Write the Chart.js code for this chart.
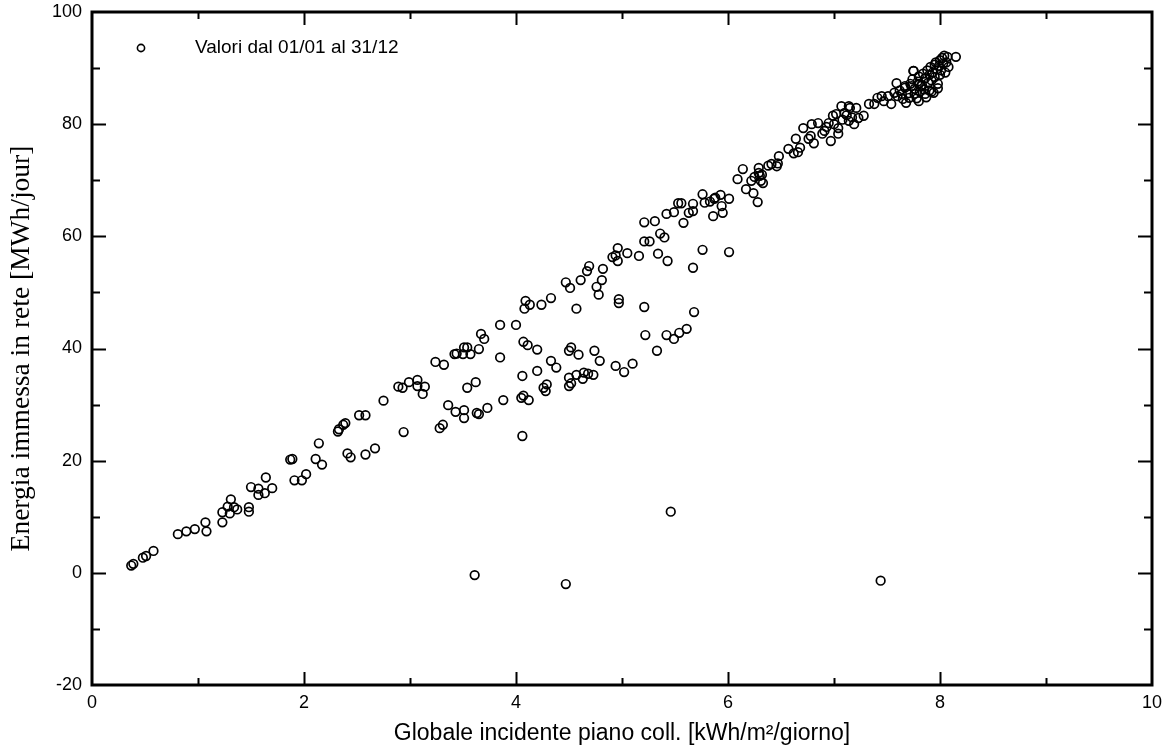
<!DOCTYPE html>
<html>
<head>
<meta charset="utf-8">
<script src="https://cdn.jsdelivr.net/npm/chart.js@4.4.1/dist/chart.umd.min.js"></script>
<style>
html,body{margin:0;padding:0;background:#fff;}
#wrap{width:1169px;height:751px;position:relative;}
</style>
</head>
<body>
<div id="wrap"><canvas id="c"></canvas></div>
<script>
// Global incident irradiation on collector plane [kWh/m²/day]
const irradiance = [
0.37,0.39,0.48,0.51,0.58,0.81,0.89,0.97,1.07,1.08,1.23,1.23,1.28,1.30,1.31,1.34,1.37,1.48,1.48,1.50,
1.57,1.57,1.63,1.64,1.70,1.87,1.89,1.91,1.98,2.02,2.11,2.14,2.17,2.32,2.33,2.37,2.39,2.41,2.44,2.52,
2.58,2.58,2.67,2.75,2.89,2.93,2.94,2.99,3.07,3.07,3.12,3.14,3.24,3.28,3.31,3.32,3.36,3.42,3.43,3.44,
3.50,3.51,3.51,3.51,3.54,3.54,3.57,3.62,3.63,3.65,3.65,3.67,3.70,3.73,3.85,3.85,3.88,4.00,4.05,4.06,
4.06,4.07,4.07,4.08,4.09,4.11,4.12,4.13,4.20,4.20,4.24,4.26,4.28,4.29,4.33,4.33,4.38,4.47,4.50,4.50,
4.50,4.51,4.52,4.52,4.57,4.57,4.59,4.61,4.63,4.64,4.67,4.68,4.69,4.73,4.74,4.76,4.78,4.79,4.81,4.82,
4.91,4.94,4.94,4.96,4.96,4.97,4.97,5.02,5.05,5.10,5.16,5.21,5.21,5.21,5.22,5.26,5.31,5.33,5.34,5.36,
5.40,5.42,5.42,5.43,5.49,5.49,5.53,5.54,5.56,5.58,5.61,5.63,5.67,5.67,5.67,5.68,5.76,5.76,5.78,5.83,
5.86,5.87,5.88,5.93,5.94,5.95,6.01,6.01,6.09,6.14,6.17,6.22,6.24,6.25,6.28,6.29,6.29,6.31,6.33,6.30,
6.32,6.38,6.41,6.46,6.47,6.48,6.57,6.62,6.66,6.68,6.64,6.71,6.76,6.78,6.79,6.81,6.85,6.89,6.91,6.95,
6.97,6.99,7.00,7.02,7.04,7.04,7.07,7.10,7.14,7.14,7.15,7.19,7.21,7.23,7.28,7.33,7.38,7.41,7.45,7.47,
7.51,7.54,7.57,7.59,7.64,7.67,7.68,7.71,7.73,7.76,7.75,7.80,7.80,6.93,7.08,7.12,7.17,
7.60,7.62,7.65,7.67,7.70,7.72,7.74,7.75,7.76,7.78,7.79,7.80,7.81,7.83,7.84,7.85,7.86,7.87,7.88,7.89,
7.90,7.90,7.91,7.92,7.93,7.94,7.95,7.95,7.96,7.97,7.98,7.99,8.00,8.00,8.01,8.02,8.03,8.04,8.05,8.06,
8.07,8.08,8.15,7.98,7.86,7.82,7.92,
3.61,4.47,5.46,7.44
];
// Energy injected into grid [MWh/day]
const energy = [
1.3,1.6,2.7,3.0,3.9,6.9,7.4,7.8,9.0,7.4,9.0,10.8,11.8,10.6,13.1,11.7,11.3,11.7,10.9,15.3,
15.0,13.9,14.2,17.0,15.1,20.2,20.3,16.5,16.5,17.6,20.3,23.1,19.3,25.2,25.6,26.4,26.7,21.3,20.6,28.1,
28.1,21.1,22.2,30.7,33.2,33.0,25.1,34.0,34.4,33.3,31.9,33.2,37.6,25.8,26.4,37.1,29.9,39.0,28.7,39.1,
39.0,40.2,29.0,27.6,40.2,33.0,39.0,34.0,28.5,28.3,39.9,42.6,41.7,29.4,44.2,38.4,30.8,44.2,31.2,24.4,
35.1,31.6,41.2,47.1,48.5,40.6,30.8,47.8,39.8,36.0,47.8,33.0,32.4,33.6,49.0,37.8,36.6,51.8,39.6,34.8,
33.3,50.8,40.2,33.8,47.1,35.3,38.9,52.2,34.6,35.7,53.8,35.5,54.7,35.3,39.6,51.0,49.6,37.8,52.2,54.2,
56.3,56.6,36.9,57.9,55.6,48.8,48.1,35.8,57.0,37.3,56.5,59.1,47.4,62.5,42.4,59.1,62.7,39.6,56.9,60.5,
59.8,64.0,42.4,55.6,64.3,41.7,65.9,42.8,65.9,62.4,43.5,64.2,64.5,54.4,65.8,46.5,57.6,67.5,66.0,66.2,
63.6,66.7,66.9,67.4,65.4,64.2,66.7,57.2,70.2,72.0,68.4,69.9,67.7,70.6,66.1,72.2,71.3,69.9,69.5,70.8,
71.0,72.6,72.9,72.5,73.0,74.3,75.6,74.8,75.0,75.8,77.4,79.3,77.4,77.9,80.0,76.6,80.2,78.3,78.8,80.2,
77.0,81.5,80.0,81.8,79.3,78.3,83.2,82.0,80.6,83.2,82.9,80.0,82.9,81.1,81.5,83.6,83.6,84.7,85.0,84.1,
85.0,83.6,85.6,87.3,85.4,86.5,83.8,84.7,86.8,85.4,89.5,84.1,87.2,79.5,80.8,81.6,81.2,
85.0,86.0,84.5,86.8,85.5,87.2,88.0,89.5,86.3,84.6,87.6,88.5,85.8,87.0,89.0,86.2,88.2,84.8,89.6,87.4,
88.8,86.0,90.2,87.8,89.2,85.6,90.6,88.4,91.0,89.8,87.2,90.4,91.4,88.8,89.6,91.8,90.8,92.2,89.2,91.0,
92.0,90.2,92.0,86.4,85.4,86.8,85.8,
-0.4,-2.0,10.9,-1.4
];
const xTickValues = [0,2,4,6,8,10];
const yTickValues = [-20,0,20,40,60,80,100];
const seriesLabel = "Valori dal 01/01 al 31/12";
const xTitle = "Globale incidente piano coll. [kWh/m²/giorno]";
const yTitle = "Energia immessa in rete [MWh/jour]";

const points = irradiance.map((x,i)=>({x:x, y:energy[i]}));

const frameAndTicks = {
  id:'frameAndTicks',
  afterDraw(chart){
    const ctx = chart.ctx, a = chart.chartArea;
    const xs = chart.scales.x, ys = chart.scales.y;
    ctx.save();
    ctx.strokeStyle = '#000';
    ctx.lineWidth = 2;
    ctx.beginPath();
    for (let v=1; v<10; v++){
      const px = Math.round(xs.getPixelForValue(v))+0.5;
      const len = (v%2===0)?13:7;
      ctx.moveTo(px, a.bottom); ctx.lineTo(px, a.bottom-len);
      ctx.moveTo(px, a.top); ctx.lineTo(px, a.top+len);
    }
    for (let v=-10; v<100; v+=10){
      const py = Math.round(ys.getPixelForValue(v))+0.5;
      const len = (v%20===0)?14:8;
      ctx.moveTo(a.left, py); ctx.lineTo(a.left+len, py);
      ctx.moveTo(a.right, py); ctx.lineTo(a.right-len, py);
    }
    ctx.stroke();
    ctx.lineWidth = 3;
    ctx.strokeRect(a.left, a.top, a.right-a.left, a.bottom-a.top);
    // legend inside the plot
    const lx = a.left + 49, ly = a.top + 36;
    ctx.lineWidth = 1.6;
    ctx.beginPath(); ctx.arc(lx, ly, 3.6, 0, Math.PI*2); ctx.stroke();
    ctx.fillStyle = '#000';
    ctx.font = '19px "Liberation Sans", Arial, sans-serif';
    ctx.textBaseline = 'middle';
    ctx.textAlign = 'left';
    ctx.fillText(seriesLabel, a.left + 103, ly);
    ctx.restore();
  }
};

new Chart(document.getElementById('c'), {
  type:'scatter',
  data:{datasets:[{
    label: seriesLabel,
    data: points,
    pointStyle:'circle',
    pointRadius:4.3,
    pointBorderWidth:1.7,
    pointBorderColor:'#000',
    pointBackgroundColor:'rgba(255,255,255,0)',
    showLine:false
  }]},
  options:{
    responsive:true,
    maintainAspectRatio:false,
    animation:false,
    layout:{padding:{top:12,right:17,left:0,bottom:0}},
    plugins:{legend:{display:false},tooltip:{enabled:false}},
    scales:{
      x:{
        type:'linear', min:0, max:10,
        afterBuildTicks(s){ s.ticks = xTickValues.map(v=>({value:v})); },
        afterFit(s){ s.height = 66; s.paddingLeft = 0; s.paddingRight = 0; },
        grid:{display:false, drawTicks:false},
        border:{display:false},
        ticks:{color:'#000', padding:7, maxRotation:0, autoSkip:false,
               font:{family:'"Liberation Sans", Arial, sans-serif', size:18},
               callback:(v)=>String(v)},
        title:{display:true, text:xTitle, color:'#000',
               font:{family:'"Liberation Sans", Arial, sans-serif', size:23},
               padding:{top:0,bottom:4}}
      },
      y:{
        type:'linear', min:-20, max:100,
        afterBuildTicks(s){ s.ticks = yTickValues.map(v=>({value:v})); },
        afterFit(s){ s.width = 92; s.paddingTop = 0; s.paddingBottom = 0; },
        grid:{display:false, drawTicks:false},
        border:{display:false},
        ticks:{color:'#000', padding:10, autoSkip:false,
               font:{family:'"Liberation Sans", Arial, sans-serif', size:18},
               callback:(v)=>String(v)},
        title:{display:true, text:yTitle, color:'#000',
               font:{family:'"Liberation Serif", "Times New Roman", serif', size:27.5},
               padding:{top:5,bottom:0}}
      }
    }
  },
  plugins:[frameAndTicks]
});
</script>
</body>
</html>
